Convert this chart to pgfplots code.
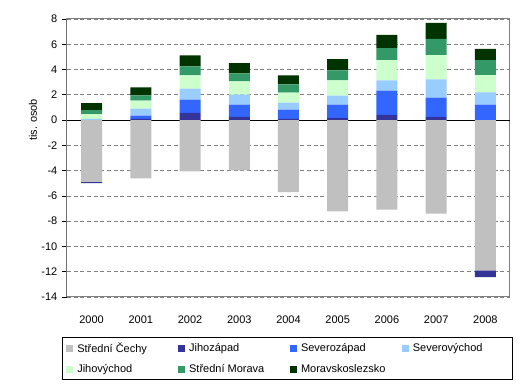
\documentclass[border=0pt]{standalone}
\usepackage{pgfplots}
\usepackage{pgfplotstable}
\pgfplotsset{compat=1.18}
\usepackage{fontspec}
\setmainfont{Liberation Sans}
\definecolor{cSC}{HTML}{C0C0C0}
\definecolor{cJZ}{HTML}{333399}
\definecolor{cSZ}{HTML}{3366FF}
\definecolor{cSV}{HTML}{99CCFF}
\definecolor{cJV}{HTML}{CCFFCC}
\definecolor{cSM}{HTML}{339966}
\definecolor{cMS}{HTML}{003300}
\definecolor{frame}{HTML}{808080}
\pgfplotstableread{
x SC JZ SZ SV JV SM MS
0 -4.88 -0.11 0 0.10 0.37 0.32 0.56
1 -4.61 0.10 0.25 0.56 0.64 0.40 0.64
2 -4.05 0.57 1.04 0.88 1.04 0.72 0.88
3 -3.97 0.26 0.96 0.80 1.04 0.64 0.80
4 -5.71 0.10 0.72 0.56 0.80 0.64 0.72
5 -7.23 0.18 1.04 0.72 1.20 0.80 0.88
6 -7.09 0.42 1.92 0.80 1.60 0.96 1.04
7 -7.41 0.26 1.52 1.44 1.92 1.28 1.28
8 -11.90 -0.53 1.23 0.96 1.36 1.20 0.88
}\data
\begin{document}
\begin{tikzpicture}[font=\fontsize{8.25}{10}\selectfont]
\useasboundingbox (-50.25pt,-69pt) rectangle (343.5pt,222.75pt);
\begin{axis}[
  at={(0,0)}, anchor=south west,
  scale only axis, width=332.25pt, height=208.5pt,
  ybar stacked, bar width=15.75pt,
  xmin=-0.5, xmax=8.5, ymin=-14, ymax=8,
  ytick={-14,-12,...,8},
  xtick={0,...,8},
  xticklabels={2000,2001,2002,2003,2004,2005,2006,2007,2008},
  xtick style={draw=none},
  ytick pos=left, tick align=outside, major tick length=3.75pt,
  ytick style={black, line width=0.6pt},
  axis line style={frame, line width=0.75pt},
  ymajorgrids, grid style={frame, line width=0.6pt, dash pattern=on 3pt off 2pt},
  /pgf/number format/assume math mode=true,
  ticklabel style={font=\fontsize{8.25}{10}\selectfont},
  xticklabel style={yshift=-7pt},
  ylabel={tis. osob},
  every axis y label/.style={at={(axis description cs:-0.077,0.637)}, rotate=90, anchor=center, font=\fontsize{8.25}{10}\selectfont},
  legend columns=4,
  legend cell align=left,
  legend style={at={(axis description cs:0.497,-0.144)}, anchor=north, draw=black, line width=0.6pt,
    font=\fontsize{8.25}{10}\selectfont, inner xsep=3pt, inner ysep=2pt,
    /tikz/every odd column/.append style={column sep=1pt},
    /tikz/every even column/.append style={column sep=4pt},
    row sep=3.5pt},
  legend image code/.code={\fill[#1] (0pt,-2.7pt) rectangle (5.4pt,2.7pt);},
]
\addplot[fill=cSC, draw=none] table[x=x,y=SC]{\data};
\addlegendentry{\makebox[69.5pt][l]{Střední Čechy}}
\addplot[fill=cJZ, draw=none] table[x=x,y=JZ]{\data};
\addlegendentry{\makebox[69.5pt][l]{Jihozápad}}
\addplot[fill=cSZ, draw=none] table[x=x,y=SZ]{\data};
\addlegendentry{\makebox[69.5pt][l]{Severozápad}}
\addplot[fill=cSV, draw=none] table[x=x,y=SV]{\data};
\addlegendentry{\makebox[69.5pt][l]{Severovýchod}}
\addplot[fill=cJV, draw=none] table[x=x,y=JV]{\data};
\addlegendentry{Jihovýchod}
\addplot[fill=cSM, draw=none] table[x=x,y=SM]{\data};
\addlegendentry{Střední Morava}
\addplot[fill=cMS, draw=none] table[x=x,y=MS]{\data};
\addlegendentry{Moravskoslezsko}
\draw[black, line width=0.75pt] (axis cs:-0.5,0) -- (axis cs:8.5,0);
\draw[black, line width=0.75pt] (rel axis cs:0,0) -- (rel axis cs:0,1);
\end{axis}
\end{tikzpicture}
\end{document}
